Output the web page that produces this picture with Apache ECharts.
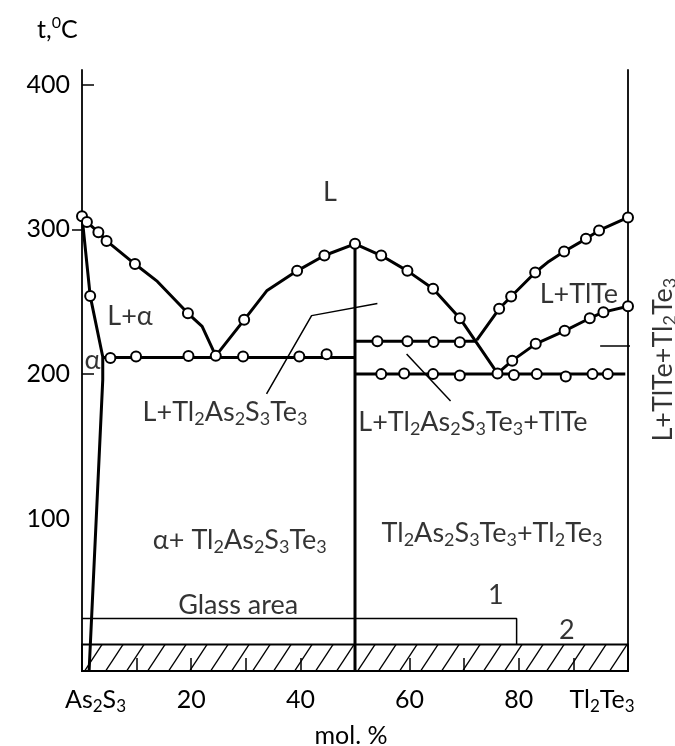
<!DOCTYPE html>
<html>
<head>
<meta charset="utf-8">
<script src="https://cdn.jsdelivr.net/npm/echarts@6/dist/echarts.min.js"></script>
<style>
html,body{margin:0;padding:0;background:#fff;}
#main{width:675px;height:746px;}
</style>
</head>
<body>
<div id="main"></div>
<script>
// phase boundaries, [mol.% Tl2Te3, t °C]
var liqLeft = [[0,309],[0.9,305],[3,298],[4.5,292],[9.7,276],[13.8,264],[19.4,242],[22,233],[24.5,212.6]];
var liqMid = [[24.5,212.6],[29.7,237.5],[33.9,257.8],[39.4,271.3],[44.4,281.9],[50,290],[54.8,281.9],[59.6,271.3],[64.3,258.9],[69.2,238.6],[76.1,200.5]];
var liqTlTe = [[72.3,223.5],[76.4,245.1],[78.6,253.6],[83,270.2],[85.5,277.8],[88.3,284.7],[92.3,293.4],[94.7,299.2],[100,308.2]];
var solTlTe = [[76.1,200.5],[78.8,209.3],[83.1,220.9],[88.4,229.9],[93,238.6],[95.5,242.8],[100,246.9]];
var alphaLine = [[0,309],[1.5,254],[3.8,212],[3.8,196],[1.3,-5]];
var eutLeft = [[3.8,211.5],[50,211.5]];
var eut223 = [[50,222.7],[72.3,222.7]];
var eut200 = [[50,200.1],[99.5,200.1]];
var compound = [[50,290],[50,-5]];
var glassLine = [[0,31.3],[79.6,31.3],[79.6,13.3]];
var hatchTop = 13.3;

// experimental points
var ptsLiqLeft = [[0,309],[0.9,305],[3,298],[4.5,292],[9.7,276],[19.4,242],[24.5,212.6]];
var ptsAlpha = [[1.5,254]];
var ptsEutLeft = [[5.2,211.2],[9.9,212.1],[19.5,212.5],[29.5,212.1],[39.8,212.1],[44.8,213.7]];
var ptsLiqMid = [[29.7,237.5],[39.4,271.3],[44.4,281.9],[50,290],[54.8,281.9],[59.6,271.3],[64.3,258.9],[69.2,238.6]];
var pts223 = [[54.1,222.7],[59.6,222.7],[64.4,222.2],[69.2,222]];
var pts200 = [[54.8,200],[59,200.5],[64.3,200],[69.2,199],[76.1,200.5],[79.1,199.4],[83.3,200],[88.6,198.3],[93.5,200],[96.3,200]];
var ptsTlTe = [[76.4,245.1],[78.6,253.6],[83,270.2],[88.3,284.7],[92.3,293.4],[94.7,299.2],[100,308.2]];
var ptsSol = [[78.8,209.3],[83.1,220.9],[88.4,229.9],[93,238.6],[95.5,242.8],[100,246.9]];

// leader lines
var leader1 = [[33.8,186.3],[42.05,240.4],[54.1,248.7]];
var leader2 = [[59.45,213.9],[67.5,181.5]];
var leader3 = [[94.9,219.5],[103.4,219.5]];

// ticks
var xTicks = [10,20,30,40,60,70,80,90];
var xLabels = [0,20,40,60,80,100];
var yLabels = [100,200,300,400];

// region labels [x, y, text]
var regionLabels = [
	[45.4,325.5,'L'],
	[8.8,240.2,'L+α'],
	[1.9,209.8,'α'],
	[91.0,255.4,'L+TlTe'],
	[26.2,173.9,'L+Tl_2As_2S_3Te_3'],
	[71.6,167,'L+Tl_2As_2S_3Te_3+TlTe'],
	[28.9,85.4,'α+ Tl_2As_2S_3Te_3'],
	[75.1,90.3,'Tl_2As_2S_3Te_3+Tl_2Te_3'],
	[28.6,40.6,'Glass area'],
	[75.8,47.5,'1'],
	[88.8,23.3,'2']
];
var sideLabel = [[106.4,210,'L+TlTe+Tl_2Te_3']];

var FONT = 'Lato';
function makeRich(size) {
	return {
		n: {fontFamily: FONT, fontSize: size, fontWeight: 'normal', lineHeight: size + 5, color: '#000', verticalAlign: 'middle'},
		s: {fontFamily: FONT, fontSize: Math.round(size * 0.68), fontWeight: 'normal', lineHeight: Math.round(size * 0.72), color: '#000', verticalAlign: 'bottom'},
		sup: {fontFamily: FONT, fontSize: Math.round(size * 0.65), fontWeight: 'normal', lineHeight: Math.round(size * 0.65), color: '#000', verticalAlign: 'top'},
		gl: {width: 27, fontSize: size},
		gr: {width: 52, fontSize: size}
	};
}
var axisRich = makeRich(25);
var textRich = makeRich(27);

function chem(s) {
	return s.split(/(_\d)/).filter(function(p) { return p; }).map(function(p) {
		return p.charAt(0) == '_' ? '{s|' + p.slice(1) + '}' : '{n|' + p + '}';
	}).join('');
}

// hatch pattern
var tile = document.createElement('canvas');
tile.width = 21;
tile.height = 32;
var ctx = tile.getContext('2d');
ctx.strokeStyle = '#000';
ctx.lineWidth = 1.3;
ctx.beginPath();
ctx.moveTo(-21, 64);
ctx.lineTo(42, -32);
ctx.stroke();

function boundary(data, w) {
	return {
		type: 'line', data: data, showSymbol: false, clip: false, z: 3,
		lineStyle: {color: '#000', width: w}, silent: true
	};
}
function points(data) {
	return {
		type: 'scatter', data: data, symbol: 'circle', symbolSize: 10, z: 5,
		itemStyle: {color: '#fff', borderColor: '#000', borderWidth: 2, opacity: 1}, silent: true
	};
}
function labels(data, rot) {
	return {
		type: 'scatter', data: data, symbolSize: 0, clip: false, z: 6, silent: true,
		label: {
			show: true, position: 'inside', rotate: rot || 0, color: '#000',
			formatter: function(p) { return chem(p.value[2]); },
			rich: textRich
		}
	};
}

var chart = echarts.init(document.getElementById('main'));
chart.setOption({
	backgroundColor: '#fff',
	animation: false,
	title: {
		text: '{n|t,}{sup|0}{n|C}',
		left: 32, top: 10,
		textStyle: {fontWeight: 'normal', rich: axisRich}
	},
	grid: {left: 82, right: 47, top: 70, bottom: 75, containLabel: false, outerBoundsMode: 'none'},
	xAxis: {
		type: 'value', min: 0, max: 100,
		name: 'mol. %', nameLocation: 'middle', nameGap: 52,
		nameTextStyle: {fontFamily: FONT, fontSize: 25, color: '#000', padding: [0, 8, 0, 0]},
		axisLine: {show: true, onZero: false, lineStyle: {color: '#000', width: 1.8}},
		axisTick: {show: true, inside: true, length: 13, customValues: xTicks, lineStyle: {color: '#000', width: 1.5}},
		axisLabel: {
			customValues: xLabels, margin: 14, color: '#000', fontFamily: FONT, fontSize: 25,
			formatter: function(v) {
				if (v === 0) return '{gl| }' + chem('As_2S_3');
				if (v === 100) return chem('Tl_2Te_3') + '{gr| }';
				return '{n|' + v + '}';
			},
			rich: axisRich
		},
		splitLine: {show: false}
	},
	yAxis: [{
		type: 'value', min: -5, max: 410, position: 'left',
		axisLine: {show: true, onZero: false, lineStyle: {color: '#000', width: 1.8}},
		axisTick: {show: true, inside: false, length: 10, customValues: [300], lineStyle: {color: '#000', width: 1.5}},
		axisLabel: {customValues: yLabels, margin: 12, color: '#000', fontFamily: FONT, fontSize: 25},
		splitLine: {show: false}
	}, {
		type: 'value', min: -5, max: 410, position: 'right',
		axisLine: {show: true, onZero: false, lineStyle: {color: '#000', width: 1.8}},
		axisTick: {show: false}, axisLabel: {show: false}, splitLine: {show: false}
	}, {
		type: 'value', min: -5, max: 410, position: 'left',
		axisLine: {show: false, onZero: false},
		axisTick: {show: true, inside: true, length: 12, customValues: [200, 400], lineStyle: {color: '#000', width: 1.5}},
		axisLabel: {show: false}, splitLine: {show: false}
	}],
	series: [
		{
			type: 'line', data: [], z: 1, silent: true,
			markArea: {
				silent: true,
				itemStyle: {color: {image: tile, repeat: 'repeat'}, borderColor: '#000', borderWidth: 1.8},
				data: [[{xAxis: 0, yAxis: -5}, {xAxis: 100, yAxis: hatchTop}]]
			}
		},
		boundary(liqLeft, 3),
		boundary(liqMid, 3),
		boundary(liqTlTe, 3),
		boundary(solTlTe, 3),
		boundary(alphaLine, 3),
		boundary(eutLeft, 3),
		boundary(eut223, 3),
		boundary(eut200, 3),
		boundary(compound, 3),
		boundary(glassLine, 1.5),
		boundary(leader1, 1.5),
		boundary(leader2, 1.5),
		boundary(leader3, 1.5),
		points(ptsLiqLeft),
		points(ptsAlpha),
		points(ptsEutLeft),
		points(ptsLiqMid),
		points(pts223),
		points(pts200),
		points(ptsTlTe),
		points(ptsSol),
		labels(regionLabels),
		labels(sideLabel, 90)
	]
});
</script>
</body>
</html>
